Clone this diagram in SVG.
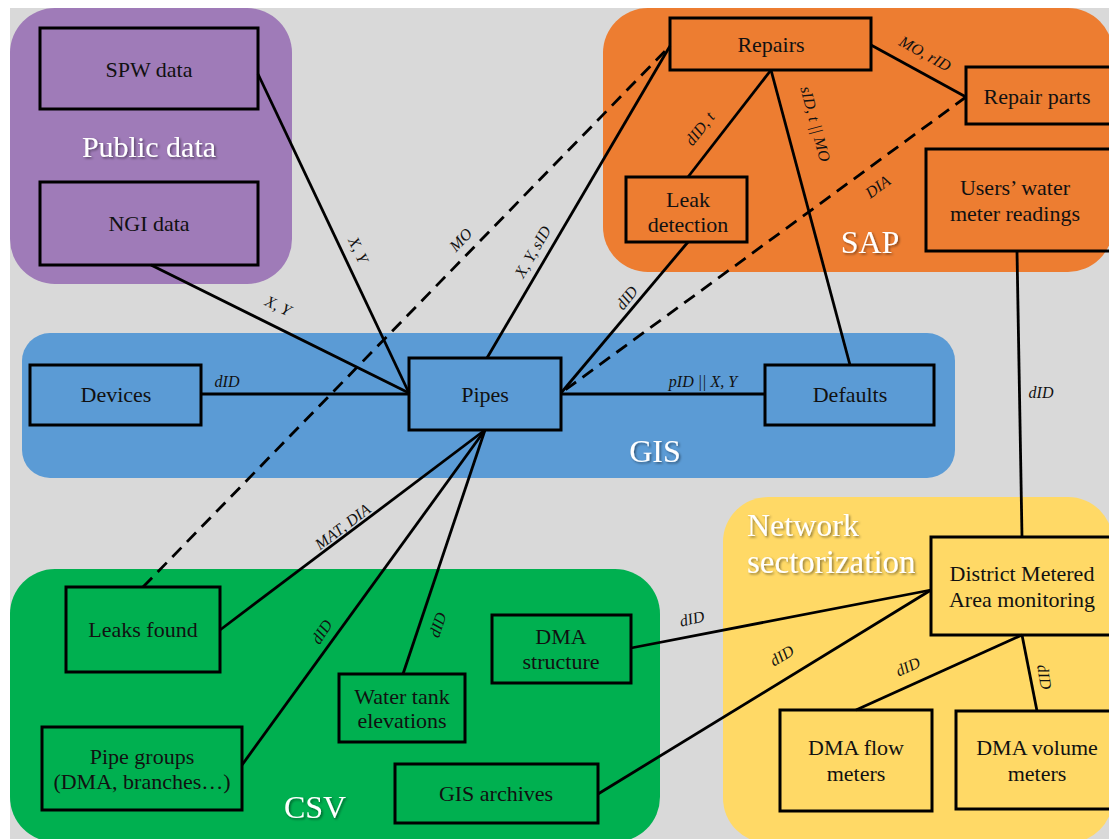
<svg xmlns="http://www.w3.org/2000/svg" width="1109" height="839" viewBox="0 0 1109 839">
<defs>
<filter id="sh" x="-20%" y="-20%" width="140%" height="140%"><feDropShadow dx="1.5" dy="1.5" stdDeviation="1" flood-color="#000" flood-opacity="0.45"/></filter>
</defs>
<style>
.box{fill:none;stroke:#000;stroke-width:3}
.nt{font-family:"Liberation Serif",serif;font-size:22px;fill:#111;text-anchor:middle}
.gt{font-family:"Liberation Serif",serif;font-size:32px;fill:#fff;text-anchor:middle;filter:url(#sh)}
.ln{stroke:#000;stroke-width:2.8;fill:none}
.dash{stroke-dasharray:13 8}
.el{font-family:"Liberation Serif",serif;font-style:italic;font-size:16px;fill:#111;text-anchor:middle}
</style>
<rect x="0" y="0" width="1109" height="839" fill="#fff"/>
<rect x="10" y="8" width="1099" height="831" fill="#d9d9d9"/>

<g id="public-data">
<rect x="10" y="8" width="282" height="276" rx="45" fill="#9f7bb8"/>
<text class="gt" x="149" y="157" style="font-size:30px">Public data</text>
</g>
<g id="sap">
<rect x="603" y="8" width="510" height="264" rx="45" fill="#ed7d31"/>
<text class="gt" x="870" y="253">SAP</text>
</g>
<g id="gis">
<rect x="22" y="333" width="933" height="145" rx="28" fill="#5b9bd5"/>
<text class="gt" x="655" y="462">GIS</text>
</g>
<g id="csv">
<rect x="10" y="569" width="650" height="273" rx="45" fill="#00b050"/>
<text class="gt" x="315" y="818">CSV</text>
</g>
<g id="network-sectorization">
<rect x="723" y="497" width="390" height="346" rx="45" fill="#ffd966"/>
<text class="gt" x="747" y="536" style="text-anchor:start">Network</text>
<text class="gt" x="747" y="573" style="text-anchor:start;font-size:33px">sectorization</text>
</g>

<g id="connectors">
<line class="ln" x1="258" y1="74" x2="409" y2="393"/>
<line class="ln" x1="151" y1="265" x2="409" y2="393"/>
<line class="ln" x1="201" y1="394" x2="409" y2="394"/>
<line class="ln dash" x1="143" y1="587" x2="670" y2="46"/>
<line class="ln" x1="487" y1="358" x2="670" y2="46"/>
<line class="ln" x1="771" y1="70" x2="688" y2="177"/>
<line class="ln" x1="771" y1="70" x2="850" y2="365"/>
<line class="ln" x1="871" y1="45" x2="966" y2="97"/>
<line class="ln dash" x1="966" y1="97" x2="561" y2="393"/>
<line class="ln" x1="688" y1="242" x2="561" y2="393"/>
<line class="ln" x1="561" y1="394" x2="765" y2="394"/>
<line class="ln" x1="1017" y1="251" x2="1022" y2="537"/>
<line class="ln" x1="485" y1="430" x2="220" y2="630"/>
<line class="ln" x1="485" y1="430" x2="242" y2="765"/>
<line class="ln" x1="485" y1="430" x2="403" y2="674"/>
<line class="ln" x1="631" y1="648" x2="931" y2="590"/>
<line class="ln" x1="598" y1="794" x2="931" y2="590"/>
<line class="ln" x1="1022" y1="635" x2="856" y2="710"/>
<line class="ln" x1="1022" y1="635" x2="1037" y2="711"/>
<text class="el" transform="translate(278,306) rotate(26)" y="5">X, Y</text>
<text class="el" transform="translate(358,250) rotate(65)" y="5">X, Y</text>
<text class="el" transform="translate(461,240) rotate(-46)" y="5">MO</text>
<text class="el" transform="translate(533,252) rotate(-60)" y="5">X, Y, sID</text>
<text class="el" transform="translate(700,129) rotate(-52)" y="5">dID, t</text>
<text class="el" transform="translate(815,124) rotate(75)" y="5">sID, t || MO</text>
<text class="el" transform="translate(925,54) rotate(29)" y="5">MO, rID</text>
<text class="el" transform="translate(878,187) rotate(-36)" y="5">DIA</text>
<text class="el" transform="translate(627,298) rotate(-52)" y="5">dID</text>
<text class="el" x="227" y="387">dID</text>
<text class="el" x="703" y="387">pID || X, Y</text>
<text class="el" x="1041" y="398">dID</text>
<text class="el" transform="translate(343,527) rotate(-37)" y="5">MAT, DIA</text>
<text class="el" transform="translate(322,632) rotate(-57)" y="5">dID</text>
<text class="el" transform="translate(438,625) rotate(-71)" y="5">dID</text>
<text class="el" transform="translate(692,619) rotate(-13)" y="5">dID</text>
<text class="el" transform="translate(782,656) rotate(-32)" y="5">dID</text>
<text class="el" transform="translate(908,667) rotate(-25)" y="5">dID</text>
<text class="el" transform="translate(1044,677) rotate(80)" y="5">dID</text>
</g>

<g id="spw-data"><rect class="box" x="40" y="28" width="218" height="81"/><text class="nt" x="149" y="77">SPW data</text></g>
<g id="ngi-data"><rect class="box" x="40" y="182" width="218" height="83"/><text class="nt" x="149" y="231">NGI data</text></g>
<g id="repairs"><rect class="box" x="670" y="18" width="201" height="52"/><text class="nt" x="771" y="52">Repairs</text></g>
<g id="repair-parts"><rect class="box" x="966" y="67" width="150" height="57"/><text class="nt" x="1037" y="104">Repair parts</text></g>
<g id="leak-detection"><rect class="box" x="626" y="177" width="121" height="65"/><text class="nt" x="688" y="207">Leak</text><text class="nt" x="688" y="232">detection</text></g>
<g id="users-water-meter-readings"><rect class="box" x="926" y="149" width="190" height="102"/><text class="nt" x="1015" y="195">Users’ water</text><text class="nt" x="1015" y="221">meter readings</text></g>
<g id="devices"><rect class="box" x="30" y="365" width="171" height="60"/><text class="nt" x="116" y="402">Devices</text></g>
<g id="pipes"><rect class="box" x="409" y="358" width="152" height="72"/><text class="nt" x="485" y="402">Pipes</text></g>
<g id="defaults"><rect class="box" x="765" y="365" width="169" height="60"/><text class="nt" x="850" y="402">Defaults</text></g>
<g id="leaks-found"><rect class="box" x="66" y="587" width="154" height="85"/><text class="nt" x="143" y="637">Leaks found</text></g>
<g id="pipe-groups"><rect class="box" x="42" y="727" width="200" height="83"/><text class="nt" x="142" y="764">Pipe groups</text><text class="nt" x="142" y="789">(DMA, branches…)</text></g>
<g id="water-tank-elevations"><rect class="box" x="339" y="674" width="126" height="68"/><text class="nt" x="402" y="704">Water tank</text><text class="nt" x="402" y="728">elevations</text></g>
<g id="dma-structure"><rect class="box" x="492" y="615" width="139" height="68"/><text class="nt" x="561" y="644">DMA</text><text class="nt" x="561" y="669">structure</text></g>
<g id="gis-archives"><rect class="box" x="395" y="764" width="203" height="59"/><text class="nt" x="496" y="801">GIS archives</text></g>
<g id="dma-monitoring"><rect class="box" x="931" y="537" width="185" height="98"/><text class="nt" x="1022" y="581">District Metered</text><text class="nt" x="1022" y="607">Area monitoring</text></g>
<g id="dma-flow-meters"><rect class="box" x="780" y="710" width="152" height="101"/><text class="nt" x="856" y="755">DMA flow</text><text class="nt" x="856" y="781">meters</text></g>
<g id="dma-volume-meters"><rect class="box" x="956" y="711" width="160" height="98"/><text class="nt" x="1037" y="755">DMA volume</text><text class="nt" x="1037" y="781">meters</text></g>
</svg>
